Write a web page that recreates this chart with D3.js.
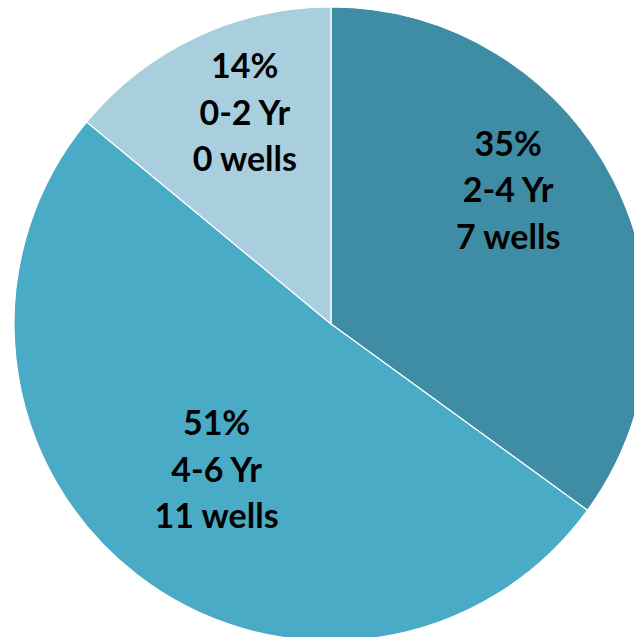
<!DOCTYPE html>
<html><head><meta charset="utf-8">
<script src="https://cdn.jsdelivr.net/npm/d3@7"></script>
<style>html,body{margin:0;padding:0;background:#fff;overflow:hidden}</style>
</head><body>
<svg id="chart" width="634" height="637"></svg>
<script>
const categories = ["2-4 Yr", "4-6 Yr", "0-2 Yr"];
const percents = [35, 51, 14];
const wells = [7, 11, 0];
const colors = ["#3f8ca5", "#4aabc6", "#a9cfdf"];

const W = 634, H = 637;
const cx = 331, cy = 324, R = 317;
const svg = d3.select("#chart");
const g = svg.append("g").attr("transform", `translate(${cx},${cy})`);

const data = categories.map((c, i) => ({cat: c, pct: percents[i], wells: wells[i], color: colors[i]}));
const pie = d3.pie().value(d => d.pct).sort(null);
const arc = d3.arc().innerRadius(0).outerRadius(R);
const arcs = pie(data);

g.selectAll("path").data(arcs).enter().append("path")
  .attr("d", arc)
  .attr("fill", d => d.data.color)
  .attr("stroke", "#fff")
  .attr("stroke-width", 1.2);

// label placement (layout tweaks: angle offset in degrees, radius fraction)
const labelAdj = [[-10, 0.70], [0.3, 0.585], [3, 0.72]];
const lineH = 46.5;
arcs.forEach((a, i) => {
  const mid = (a.startAngle + a.endAngle) / 2 + labelAdj[i][0] * Math.PI / 180;
  const r = R * labelAdj[i][1];
  const x = r * Math.sin(mid), y = -r * Math.cos(mid);
  const lines = [a.data.pct + "%", a.data.cat, a.data.wells + " wells"];
  const t = g.append("text")
    .attr("text-anchor", "middle")
    .attr("font-family", "Lato, 'Open Sans', sans-serif")
    .attr("font-weight", "bold")
    .attr("font-size", 34)
    .attr("fill", "#000");
  lines.forEach((ln, k) => {
    t.append("tspan").attr("x", x).attr("y", y + (k - 1) * lineH + 12).text(ln);
  });
});
</script>
</body></html>
